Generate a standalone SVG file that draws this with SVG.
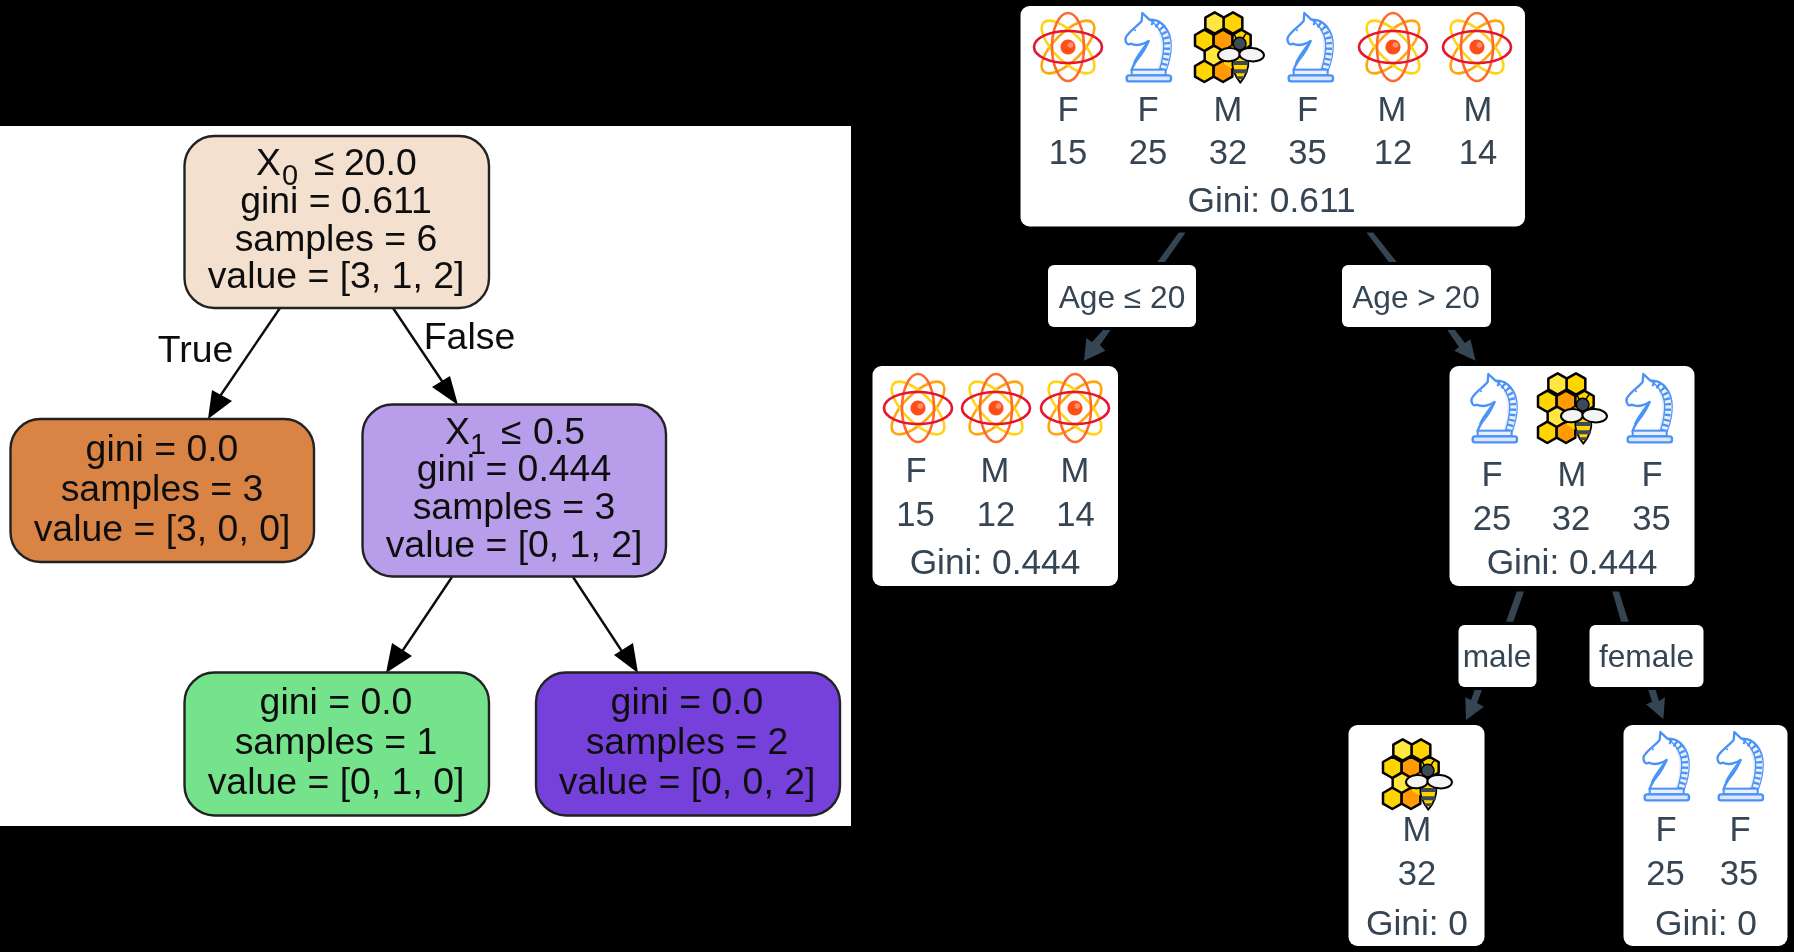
<svg xmlns="http://www.w3.org/2000/svg" width="1794" height="952" viewBox="0 0 1794 952">
<style>
text{font-family:"Liberation Sans",Arial,sans-serif}
.g text{font-size:37.4px;fill:#111;text-anchor:middle}
.g tspan.s{font-size:29px}
.n{stroke:#222;stroke-width:2.4}
.e{stroke:#111;stroke-width:2.4;fill:none}
.h{fill:#000}
.w{fill:#fff}
.d text{font-size:34.6px;fill:#354452;text-anchor:middle}
.d text.t{font-size:35.3px}
.l text{font-size:31.7px;fill:#354452;text-anchor:middle}
.c{fill:#354452}
</style>
<defs>
<filter id="b" x="-2%" y="-2%" width="104%" height="104%"><feGaussianBlur stdDeviation="0.6"/></filter>
<filter id="b2" x="-2%" y="-2%" width="104%" height="104%"><feGaussianBlur stdDeviation="0.35"/></filter>
<symbol id="atom" viewBox="0 0 70 70" overflow="visible">
<g fill="none" stroke-width="2.6">
<ellipse cx="35" cy="35" rx="34.5" ry="14" stroke="#ffa50f" transform="rotate(-45 35 35)"/>
<ellipse cx="35" cy="35" rx="34.5" ry="14" stroke="#ffd414" transform="rotate(45 35 35)"/>
<ellipse cx="35" cy="35" rx="16" ry="34" stroke="#ff6a2c"/>
<ellipse cx="35" cy="35" rx="34" ry="16" stroke="#e5122f"/>
</g>
<circle cx="35" cy="35" r="7.6" fill="#ff5019"/>
<circle cx="37.5" cy="33" r="2.8" fill="#ff8f6e"/>
</symbol>
<symbol id="knight" viewBox="0 0 210 210" overflow="visible">
<g transform="translate(-279 -5)">
<path d="M367 8L388 28C425 25 452 60 452 105C452 135 445 160 437 180H335C340 160 350 150 362 135C375 118 380 105 386 92C370 102 350 108 332 100C322 108 313 92 318 80C330 60 350 50 365 32Z" fill="#fff" stroke="#4b92f7" stroke-width="7" stroke-linejoin="round"/>
<path d="M412 60C428 90 428 140 410 178L437 180C445 160 452 135 452 105C452 90 447 72 438 58Z" fill="#e9effb"/>
<path d="M395 34C425 45 441 75 441 105C441 135 435 155 428 178" fill="none" stroke="#4b92f7" stroke-width="19" stroke-dasharray="7 9"/>
<path d="M388 28C415 45 431 75 431 105C431 135 425 158 418 180" fill="none" stroke="#4b92f7" stroke-width="4"/>
<path d="M385 92C368 118 350 138 342 158" fill="none" stroke="#4b92f7" stroke-width="6" stroke-linecap="round"/>
<circle cx="343" cy="163" r="3" fill="#4b92f7"/>
<circle cx="345" cy="60" r="3" fill="#4b92f7"/>
<rect x="335" y="178" width="102" height="17" fill="#e9effb" stroke="#4b92f7" stroke-width="6"/>
<rect x="320" y="195" width="133" height="18" rx="7" fill="#dde7fb" stroke="#4b92f7" stroke-width="7"/>
</g>
</symbol>
<polygon id="hx" points="0,-32 28,-16 28,16 0,32 -28,16 -28,-16" stroke="#000" stroke-width="7.5" stroke-linejoin="round"/>
<symbol id="honey" viewBox="0 0 210 210" overflow="visible">
<g transform="translate(-525 -5)">
<use href="#hx" x="667" y="90" fill="#ffd500"/>
<use href="#hx" x="587" y="38" fill="#ffe640"/>
<use href="#hx" x="642" y="38" fill="#ffd500"/>
<use href="#hx" x="556" y="90" fill="#ffd500"/>
<use href="#hx" x="612" y="90" fill="#ff9a05"/>
<use href="#hx" x="585" y="138" fill="#ffe640"/>
<use href="#hx" x="556" y="183" fill="#ffd500"/>
<use href="#hx" x="612" y="183" fill="#ff9a05"/>
<polygon points="615,115 640,108 668,115 668,160 640,175 615,160" fill="#ffd500"/>
<path d="M652 85Q648 74 642 70M672 85Q676 74 682 70" fill="none" stroke="#000" stroke-width="4.5"/>
<circle cx="662" cy="100" r="19" fill="#3d4a57" stroke="#000" stroke-width="4.5"/>
<path d="M664 217C646 195 638 175 640 150C642 130 686 130 688 150C690 175 682 195 664 217Z" fill="#ffd500" stroke="#000" stroke-width="5.5" stroke-linejoin="round"/>
<path d="M642 152H686V164H642ZM643 177H685V189H643ZM651 198H677L672 206H656Z" fill="#3d4a57"/>
<ellipse cx="630" cy="133" rx="33" ry="20" fill="#f4f4f4" stroke="#000" stroke-width="6" transform="rotate(-4 630 133)"/>
<ellipse cx="698" cy="133" rx="37" ry="20" fill="#f4f4f4" stroke="#000" stroke-width="6" transform="rotate(4 698 133)"/>
</g>
</symbol>
</defs>
<rect width="1794" height="952" fill="#000"/>
<rect x="0" y="126" width="851" height="700" fill="#fff"/>

<g id="sklearn-connectors" filter="url(#b)">
<path class="e" d="M280 308L214 405M393 308L450 393M452 577L397 659M573 577L627 659"/>
<polygon class="h" points="208,419 212,390 232,401"/>
<polygon class="h" points="458,405 432,387 450,376"/>
<polygon class="h" points="386,673 392,643 412,656"/>
<polygon class="h" points="638,673 614,655 633,643"/>
</g>
<g id="sklearn-edge-labels" class="g" filter="url(#b)">
<text x="195.5" y="362">True</text>
<text x="469.5" y="349">False</text>
</g>
<g id="sk-root" class="g" filter="url(#b)">
<rect class="n" x="184.5" y="136" width="304.5" height="172" rx="30" fill="#f4e0cf"/>
<text style="text-anchor:start" y="175"><tspan x="256">X</tspan><tspan class="s" x="282" y="185">0</tspan><tspan x="314" y="175">≤</tspan><tspan x="344">20.0</tspan></text>
<text x="336" y="213">gini = 0.611</text>
<text x="336" y="251">samples = 6</text>
<text x="336" y="288">value = [3, 1, 2]</text>
</g>
<g id="sk-left" class="g" filter="url(#b)">
<rect class="n" x="10.5" y="419" width="303.5" height="143" rx="30" fill="#d98345"/>
<text x="162" y="460.5">gini = 0.0</text>
<text x="162" y="500.5">samples = 3</text>
<text x="162" y="540.5">value = [3, 0, 0]</text>
</g>
<g id="sk-right" class="g" filter="url(#b)">
<rect class="n" x="362.5" y="404.5" width="303.5" height="172" rx="30" fill="#b79dea"/>
<text style="text-anchor:start" y="444"><tspan x="445">X</tspan><tspan class="s" x="470" y="454">1</tspan><tspan x="501" y="444">≤</tspan><tspan x="533">0.5</tspan></text>
<text x="514" y="480.5">gini = 0.444</text>
<text x="514" y="518.5">samples = 3</text>
<text x="514" y="556.5">value = [0, 1, 2]</text>
</g>
<g id="sk-green" class="g" filter="url(#b)">
<rect class="n" x="184.5" y="672.5" width="304.5" height="143" rx="30" fill="#74e28c"/>
<text x="336" y="714">gini = 0.0</text>
<text x="336" y="754">samples = 1</text>
<text x="336" y="794">value = [0, 1, 0]</text>
</g>
<g id="sk-purple" class="g" filter="url(#b)">
<rect class="n" x="536" y="672.5" width="304" height="143" rx="30" fill="#7640da"/>
<text x="687" y="714">gini = 0.0</text>
<text x="687" y="754">samples = 2</text>
<text x="687" y="794">value = [0, 0, 2]</text>
</g>

<g id="connectors" filter="url(#b2)">
<polygon class="c" points="1178.7,232.5 1185.6,232.5 1165,262 1157.4,262"/>
<path class="c" d="M1103,330H1110.6L1100,345L1105.4,350.7L1084,360.7L1086.4,338L1092,342Z"/>
<polygon class="c" points="1366.4,232.5 1373.3,232.5 1396.7,262 1388.8,262"/>
<path class="c" d="M1447.3,330H1454.9L1465,343L1470.4,339.3L1475.6,360.7L1454.2,350.7L1459,347Z"/>
<polygon class="c" points="1516.7,591.5 1524,591.5 1513.3,621.7 1506,621.7"/>
<path class="c" d="M1474.7,690H1482L1477,703L1484,706.7L1466,720L1465.3,697.3L1471,700Z"/>
<polygon class="c" points="1612.3,591.5 1619,591.5 1628.7,621.7 1621,621.7"/>
<path class="c" d="M1648.3,690H1655.7L1659,701L1665,697.3L1663.3,719.3L1646,704.3L1652,702Z"/>
</g>

<g id="label-age-le" class="l" filter="url(#b2)">
<rect class="w" x="1048" y="265" width="148" height="62" rx="6"/>
<text x="1122" y="308">Age ≤ 20</text>
</g>
<g id="label-age-gt" class="l" filter="url(#b2)">
<rect class="w" x="1342" y="265" width="149" height="62" rx="6"/>
<text x="1416" y="308">Age &gt; 20</text>
</g>
<g id="label-male" class="l" filter="url(#b2)">
<rect class="w" x="1458.5" y="625" width="78" height="62" rx="6"/>
<text x="1497" y="667">male</text>
</g>
<g id="label-female" class="l" filter="url(#b2)">
<rect class="w" x="1589.5" y="625" width="114" height="62" rx="6"/>
<text x="1646.5" y="667">female</text>
</g>

<g id="node-root" class="d" filter="url(#b2)">
<rect class="w" x="1020.5" y="6" width="504.5" height="220.5" rx="9"/>
<use href="#atom" x="1033" y="12" width="70" height="70"/>
<use href="#knight" x="1113" y="12" width="70" height="70"/>
<use href="#honey" x="1194" y="12" width="70" height="70"/>
<use href="#knight" x="1275" y="12" width="70" height="70"/>
<use href="#atom" x="1358" y="12" width="70" height="70"/>
<use href="#atom" x="1442" y="12" width="70" height="70"/>
<text x="1068" y="121">F</text><text x="1148" y="121">F</text><text x="1228" y="121">M</text><text x="1307.5" y="121">F</text><text x="1392" y="121">M</text><text x="1478" y="121">M</text>
<text x="1068" y="163.5">15</text><text x="1148" y="163.5">25</text><text x="1228" y="163.5">32</text><text x="1307.5" y="163.5">35</text><text x="1393" y="163.5">12</text><text x="1478" y="163.5">14</text>
<text class="t" x="1271.5" y="212">Gini: 0.611</text>
</g>
<g id="node-left" class="d" filter="url(#b2)">
<rect class="w" x="872.5" y="366" width="245.5" height="220" rx="9"/>
<use href="#atom" x="883" y="373" width="70" height="70"/>
<use href="#atom" x="961" y="373" width="70" height="70"/>
<use href="#atom" x="1040" y="373" width="70" height="70"/>
<text x="916" y="482">F</text><text x="995" y="482">M</text><text x="1075" y="482">M</text>
<text x="915.5" y="526">15</text><text x="996" y="526">12</text><text x="1075.5" y="526">14</text>
<text class="t" x="995" y="573.5">Gini: 0.444</text>
</g>
<g id="node-right" class="d" filter="url(#b2)">
<rect class="w" x="1449.5" y="366" width="245" height="220" rx="9"/>
<use href="#knight" x="1459" y="373" width="70" height="70"/>
<use href="#honey" x="1537" y="373" width="70" height="70"/>
<use href="#knight" x="1614" y="373" width="70" height="70"/>
<text x="1492" y="486">F</text><text x="1572" y="486">M</text><text x="1652" y="486">F</text>
<text x="1492" y="530">25</text><text x="1571" y="530">32</text><text x="1651.5" y="530">35</text>
<text class="t" x="1572" y="573.5">Gini: 0.444</text>
</g>
<g id="node-male" class="d" filter="url(#b2)">
<rect class="w" x="1348.5" y="725" width="136" height="221" rx="9"/>
<use href="#honey" x="1382" y="739" width="70" height="70"/>
<text x="1417" y="841">M</text>
<text x="1417" y="885">32</text>
<text class="t" x="1417" y="935">Gini: 0</text>
</g>
<g id="node-female" class="d" filter="url(#b2)">
<rect class="w" x="1623.5" y="725" width="164" height="221" rx="9"/>
<use href="#knight" x="1631" y="731" width="70" height="70"/>
<use href="#knight" x="1705" y="731" width="70" height="70"/>
<text x="1666" y="841">F</text><text x="1740" y="841">F</text>
<text x="1665.5" y="885">25</text><text x="1739" y="885">35</text>
<text class="t" x="1706" y="935">Gini: 0</text>
</g>
</svg>
